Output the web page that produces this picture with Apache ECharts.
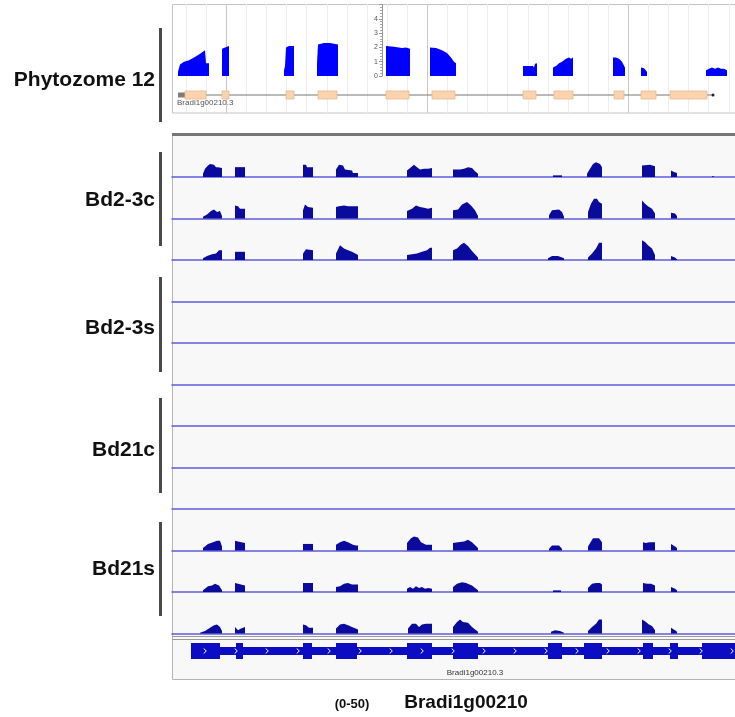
<!DOCTYPE html>
<html>
<head>
<meta charset="utf-8">
<script src="https://cdn.jsdelivr.net/npm/echarts@6/dist/echarts.min.js"></script>
<style>
  html, body { margin: 0; background: #fff; }
  #chart { width: 735px; height: 717px; }
</style>
</head>
<body>
<div id="chart"></div>
<script>
// labels
const groupNames = ['Bd2-3c', 'Bd2-3s', 'Bd21c', 'Bd21s'];
const refName = 'Phytozome 12';
const dataRange = '(0-50)';
const geneName = 'Bradi1g00210';
const transcriptName = 'Bradi1g00210.3';

// Phytozome panel: coverage peaks, [position, depth]
const phytoCoverage = [
  [[12, 0.3], [14, 0.8], [18, 1.0], [23, 1.1], [28, 1.3], [33, 1.5], [39, 1.8], [40, 0.9], [43, 0.9]],
  [[56, 1.9], [59, 2.0], [63, 2.1]],
  [[118, 0.4], [119, 0.7], [120, 2.0], [123, 2.1], [128, 2.1]],
  [[151, 0.9], [152, 2.2], [158, 2.3], [164, 2.3], [172, 2.2]],
  [[220, 2.1], [228, 2.05], [236, 1.95], [240, 2.0], [244, 1.9]],
  [[264, 2.0], [270, 1.95], [276, 1.8], [281, 1.6], [285, 1.3], [288, 1.0], [290, 0.9]],
  [[357, 0.7], [367, 0.7], [368, 0.6], [369, 0.85], [371, 0.9]],
  [[387, 0.6], [390, 0.7], [393, 0.9], [396, 1.0], [400, 1.2], [403, 1.3], [405, 1.2], [407, 1.3]],
  [[447, 1.3], [450, 1.3], [453, 1.2], [456, 1.0], [459, 0.6]],
  [[475, 0.6], [478, 0.55], [481, 0.3]],
  [[540, 0.4], [543, 0.5], [546, 0.6], [549, 0.5], [552, 0.6], [555, 0.5], [558, 0.5], [561, 0.4]]
];
const phytoIntron = [12, 546];
const phytoUtr = [[12, 19]];
const phytoExons = [[19, 40], [56, 63], [120, 128], [152, 171], [220, 243], [266, 289],
  [357, 370], [388, 407], [448, 458], [475, 490], [504, 541]];

// RNA-seq coverage tracks (range 0-50), peaks of [position, depth]
const bd23c_1 = [
  [[31, 4], [33, 10], [36, 14], [38, 16], [42, 15], [44, 12], [46, 12], [50, 11]],
  [[63, 12], [73, 12]],
  [[131, 15], [134, 15], [135, 12], [141, 12]],
  [[164, 9], [167, 15], [171, 14], [173, 9], [180, 8], [181, 5], [186, 5]],
  [[235, 8], [239, 12], [242, 15], [245, 12], [248, 9], [252, 10], [256, 10], [260, 11]],
  [[281, 9], [288, 9], [292, 10], [296, 12], [300, 11], [303, 7], [306, 4]],
  [[381, 2], [390, 2]],
  [[415, 4], [418, 10], [421, 16], [424, 18], [428, 16], [430, 12]],
  [[470, 14], [478, 15], [483, 13]],
  [[499, 8], [502, 6], [505, 5]],
  [[540, 1], [542, 1]]
];
const bd23c_2 = [
  [[31, 2], [35, 5], [39, 9], [42, 11], [45, 8], [48, 9], [50, 3]],
  [[63, 16], [66, 15], [68, 12], [73, 12]],
  [[131, 10], [133, 17], [136, 14], [141, 13]],
  [[164, 14], [167, 15], [172, 16], [176, 15], [181, 15], [186, 15]],
  [[235, 9], [240, 12], [244, 16], [248, 14], [252, 13], [256, 12], [260, 13]],
  [[281, 10], [286, 11], [290, 17], [295, 20], [299, 16], [303, 10], [306, 3]],
  [[377, 4], [380, 10], [387, 11], [390, 8], [392, 2]],
  [[416, 8], [419, 18], [422, 24], [425, 24], [427, 20], [430, 18]],
  [[470, 22], [473, 18], [476, 15], [480, 12], [483, 6]],
  [[499, 7], [503, 6], [505, 3]]
];
const bd23c_3 = [
  [[31, 2], [35, 5], [40, 7], [44, 8], [47, 12], [50, 12]],
  [[63, 10], [73, 10]],
  [[131, 8], [134, 13], [141, 12]],
  [[164, 8], [168, 18], [172, 14], [176, 12], [180, 10], [186, 6]],
  [[235, 6], [240, 7], [245, 8], [250, 10], [255, 12], [258, 15], [260, 15]],
  [[281, 12], [285, 14], [289, 19], [292, 21], [296, 17], [300, 11], [306, 3]],
  [[376, 2], [380, 5], [386, 5], [392, 2]],
  [[416, 3], [420, 8], [424, 14], [427, 21], [430, 21]],
  [[470, 24], [473, 22], [476, 18], [480, 14], [483, 6]],
  [[499, 5], [503, 3], [505, 1]]
];
const bd23s_1 = [];
const bd23s_2 = [];
const bd23s_3 = [];
const bd21c_1 = [];
const bd21c_2 = [];
const bd21c_3 = [];
const bd21s_1 = [
  [[31, 3], [36, 8], [41, 10], [45, 12], [48, 12], [50, 5]],
  [[63, 12], [66, 11], [73, 9]],
  [[131, 8], [141, 8]],
  [[164, 7], [168, 10], [172, 12], [176, 10], [181, 7], [184, 6], [186, 6]],
  [[235, 9], [239, 15], [242, 17], [246, 16], [249, 10], [254, 7], [260, 7]],
  [[281, 9], [286, 10], [292, 11], [296, 13], [300, 10], [306, 3]],
  [[377, 2], [380, 6], [387, 6], [390, 2]],
  [[416, 5], [419, 11], [421, 15], [427, 15], [430, 10]],
  [[471, 10], [474, 9], [477, 10], [483, 10]],
  [[499, 8], [503, 5], [505, 3]]
];
const bd21s_2 = [
  [[31, 2], [36, 7], [40, 8], [43, 10], [47, 8], [50, 2]],
  [[63, 11], [66, 10], [73, 8]],
  [[131, 11], [141, 11]],
  [[164, 6], [168, 7], [172, 10], [176, 11], [180, 9], [186, 9]],
  [[235, 4], [238, 6], [241, 4], [244, 7], [247, 5], [250, 6], [253, 4], [256, 5], [260, 4]],
  [[281, 6], [285, 10], [290, 12], [294, 11], [300, 8], [306, 2]],
  [[381, 2], [389, 2]],
  [[416, 5], [420, 10], [424, 11], [428, 11], [430, 9]],
  [[471, 11], [475, 10], [479, 10], [483, 8]],
  [[499, 6], [503, 4], [505, 2]]
];
const bd21s_3 = [
  [[28, 1], [33, 3], [38, 7], [42, 10], [45, 11], [48, 8], [50, 3]],
  [[63, 8], [66, 4], [69, 6], [73, 8]],
  [[131, 11], [134, 10], [137, 7], [141, 7]],
  [[164, 6], [168, 11], [172, 12], [176, 10], [180, 8], [186, 5]],
  [[236, 6], [240, 12], [244, 12], [247, 8], [250, 11], [254, 12], [260, 12]],
  [[281, 8], [285, 14], [288, 17], [291, 14], [296, 13], [300, 8], [306, 2]],
  [[379, 2], [383, 4], [388, 3], [392, 1]],
  [[416, 3], [420, 8], [424, 12], [427, 17], [430, 17]],
  [[470, 17], [473, 15], [477, 11], [480, 9], [483, 4]],
  [[499, 7], [503, 4], [505, 2]]
];
const tracks = [bd23c_1, bd23c_2, bd23c_3, bd23s_1, bd23s_2, bd23s_3,
  bd21c_1, bd21c_2, bd21c_3, bd21s_1, bd21s_2, bd21s_3];

// gene model under the tracks
const geneIntron = [19, 563];
const geneExons = [[19, 48], [64, 71], [131, 140], [164, 185], [235, 260], [281, 306],
  [376, 390], [412, 430], [471, 481], [498, 506], [530, 563]];

const chart = echarts.init(document.getElementById('chart'));
const FONT = '"Liberation Sans", Arial, sans-serif';

// 覆盖度：每个峰画成一个多边形，坐标走轴的比例尺
function coverageSeries(peaks, axisIndex, color) {
  return {
    type: 'custom', xAxisIndex: axisIndex, yAxisIndex: axisIndex, silent: true, z: 3,
    data: peaks.map(p => [p[0][0], p[p.length - 1][0]]),
    renderItem: (params, api) => {
      const p = peaks[params.dataIndex];
      const pts = [api.coord([p[0][0], 0])];
      p.forEach(pt => pts.push(api.coord(pt)));
      pts.push(api.coord([p[p.length - 1][0], 0]));
      return { type: 'polygon', shape: { points: pts }, style: { fill: color } };
    }
  };
}

const grids = [];
const xAxes = [];
const yAxes = [];
const series = [];

// 0: top panel light grid lines
grids.push({ left: 166, right: 0, top: 4, height: 109 });
xAxes.push({ gridIndex: 0, type: 'value', min: 0, max: 569, interval: 20.1,
  axisLine: { show: false }, axisTick: { show: false }, axisLabel: { show: false },
  splitLine: { show: true, showMinLine: false, lineStyle: { color: '#ededed', width: 1 } } });
yAxes.push({ gridIndex: 0, show: false, min: 0, max: 1 });

// 1: top panel darker grid lines
grids.push({ left: 25, right: 0, top: 4, height: 109 });
xAxes.push({ gridIndex: 1, type: 'value', min: 0, max: 710, interval: 201,
  axisLine: { show: false }, axisTick: { show: false }, axisLabel: { show: false },
  splitLine: { show: true, showMinLine: false, showMaxLine: false, lineStyle: { color: '#c8c8c8', width: 1 } } });
yAxes.push({ gridIndex: 1, show: false, min: 0, max: 1 });

// 2: phytozome coverage
grids.push({ left: 166, right: 0, top: 4.5, height: 71.5 });
xAxes.push({ gridIndex: 2, type: 'value', min: 0, max: 569, show: false });
yAxes.push({
  gridIndex: 2, type: 'value', min: 0, max: 5, interval: 1, position: 'left', offset: -216,
  axisLine: { show: true, lineStyle: { color: '#999', width: 1 } },
  axisTick: { show: true, length: 3, lineStyle: { color: '#999' } },
  minorTick: { show: true, splitNumber: 5, length: 2, lineStyle: { color: '#aaa' } },
  axisLabel: { fontSize: 7, color: '#555', margin: 4, fontFamily: FONT,
    formatter: v => (v < 5 ? String(v) : '') },
  splitLine: { show: false }
});
series.push(coverageSeries(phytoCoverage, 2, '#0000ff'));

// 3: phytozome gene model
grids.push({ left: 166, right: 0, top: 85, height: 20 });
xAxes.push({ gridIndex: 3, type: 'value', min: 0, max: 569, show: false });
yAxes.push({ gridIndex: 3, show: false, min: -1, max: 1 });
const phytoGeneData = [[phytoIntron[0], phytoIntron[1], 0]]
  .concat(phytoUtr.map(u => [u[0], u[1], 2]))
  .concat(phytoExons.map(e => [e[0], e[1], 1]));
series.push({
  type: 'custom', xAxisIndex: 3, yAxisIndex: 3, data: phytoGeneData, silent: true, z: 3,
  renderItem: (params, api) => {
    const a = api.coord([api.value(0), 0]);
    const b = api.coord([api.value(1), 0]);
    const kind = api.value(2);
    if (kind === 0) {
      return { type: 'group', children: [
        { type: 'line', shape: { x1: a[0], y1: a[1], x2: b[0], y2: b[1] }, style: { stroke: '#777', lineWidth: 1 } },
        { type: 'circle', shape: { cx: b[0] + 1, cy: b[1], r: 1.5 }, style: { fill: '#222' } }
      ] };
    }
    if (kind === 2) {
      return { type: 'rect', shape: { x: a[0], y: a[1] - 2.5, width: b[0] - a[0], height: 5 }, style: { fill: '#7d7d7d' } };
    }
    return { type: 'rect', shape: { x: a[0], y: a[1] - 4, width: b[0] - a[0], height: 8 },
      style: { fill: '#fcd3ad', stroke: '#e9b98f', lineWidth: 0.8 } };
  }
});

// coverage tracks
const firstBase = 177;
const trackStep = 41.5;
tracks.forEach((t, i) => {
  const gi = grids.length;
  const base = firstBase + trackStep * i;
  grids.push({ left: 172, right: 0, top: base - 41, height: 41 });
  xAxes.push({ gridIndex: gi, type: 'value', min: 0, max: 563,
    axisLine: { show: true, onZero: false, lineStyle: { color: '#5c5cdc', width: 1.5 } },
    axisTick: { show: false }, axisLabel: { show: false }, splitLine: { show: false } });
  yAxes.push({ gridIndex: gi, type: 'value', min: 0, max: 50, show: false });
  series.push(coverageSeries(t, gi, '#0a0a9c'));
});

// gene model (main panel)
const gg = grids.length;
grids.push({ left: 172, right: 0, top: 640, height: 22 });
xAxes.push({ gridIndex: gg, type: 'value', min: 0, max: 563, show: false });
yAxes.push({ gridIndex: gg, show: false, min: -1, max: 1 });
const geneData = geneExons.map(e => [e[0], e[1], 1]).concat([[geneIntron[0], geneIntron[1], 0]]);
series.push({
  type: 'custom', xAxisIndex: gg, yAxisIndex: gg, data: geneData, silent: true, z: 3,
  renderItem: (params, api) => {
    const a = api.coord([api.value(0), 0]);
    const b = api.coord([api.value(1), 0]);
    const blue = '#0c0cc2';
    if (api.value(2) === 1) {
      return { type: 'rect', shape: { x: a[0], y: a[1] - 8, width: b[0] - a[0], height: 16 }, style: { fill: blue } };
    }
    const children = [
      { type: 'rect', shape: { x: a[0], y: a[1] - 4, width: b[0] - a[0], height: 8 }, style: { fill: blue } }
    ];
    for (let px = a[0] + 14; px < b[0]; px += 31) {
      children.push({ type: 'polyline',
        shape: { points: [[px - 1.3, a[1] - 2.5], [px + 1.3, a[1]], [px - 1.3, a[1] + 2.5]] },
        style: { stroke: '#fff', lineWidth: 1, fill: null } });
    }
    return { type: 'group', children };
  }
});

// 左侧标签和竖线
const labelRows = [
  { text: refName, y: 80, top: 28, bottom: 122 },
  { text: groupNames[0], y: 200, top: 152, bottom: 246 },
  { text: groupNames[1], y: 328, top: 277, bottom: 372 },
  { text: groupNames[2], y: 450, top: 398, bottom: 493 },
  { text: groupNames[3], y: 569, top: 522, bottom: 616 }
];
const graphics = [
  // panel backgrounds
  { type: 'rect', z: -10, shape: { x: 172.5, y: 4.5, width: 570, height: 108.5 },
    style: { fill: '#fff', stroke: '#c4c4c4', lineWidth: 1 } },
  { type: 'rect', z: -10, shape: { x: 172.5, y: 134, width: 570, height: 545.5 },
    style: { fill: '#f8f8f8', stroke: '#b4b4b4', lineWidth: 1 } },
  { type: 'line', z: 10, shape: { x1: 172, y1: 134.5, x2: 735, y2: 134.5 }, style: { stroke: '#777', lineWidth: 3 } },
  { type: 'line', z: 10, shape: { x1: 172, y1: 636.5, x2: 735, y2: 636.5 }, style: { stroke: '#999', lineWidth: 1 } },
  { type: 'line', z: 10, shape: { x1: 172, y1: 639.5, x2: 735, y2: 639.5 }, style: { stroke: '#999', lineWidth: 1 } },
  { type: 'text', z: 10, style: { text: transcriptName, x: 177, y: 103, font: '8px ' + FONT, fill: '#555',
    textAlign: 'left', textVerticalAlign: 'middle' } },
  { type: 'text', z: 10, style: { text: transcriptName, x: 475, y: 673, font: '8px ' + FONT, fill: '#333',
    textAlign: 'center', textVerticalAlign: 'middle' } },
  { type: 'text', z: 10, style: { text: dataRange, x: 352, y: 704, font: 'bold 13px ' + FONT, fill: '#111',
    textAlign: 'center', textVerticalAlign: 'middle' } },
  { type: 'text', z: 10, style: { text: geneName, x: 466, y: 703, font: 'bold 19px ' + FONT, fill: '#111',
    textAlign: 'center', textVerticalAlign: 'middle' } }
];
labelRows.forEach(r => {
  graphics.push({ type: 'text', z: 10, style: { text: r.text, x: 155, y: r.y, font: 'bold 21px ' + FONT,
    fill: '#111', textAlign: 'right', textVerticalAlign: 'middle' } });
  graphics.push({ type: 'line', z: 10, shape: { x1: 160.5, y1: r.top, x2: 160.5, y2: r.bottom },
    style: { stroke: '#4a4a4a', lineWidth: 3 } });
});

chart.setOption({
  animation: false,
  backgroundColor: '#fff',
  grid: grids,
  xAxis: xAxes,
  yAxis: yAxes,
  series: series,
  graphic: { elements: graphics }
});
</script>
</body>
</html>
